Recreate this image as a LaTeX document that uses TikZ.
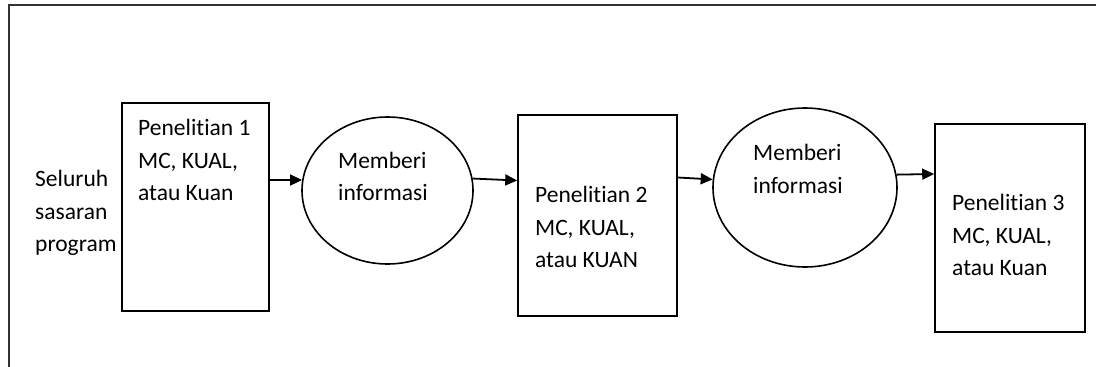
\documentclass[tikz,border=0pt]{standalone}
\usepackage{fontspec}
\setmainfont{Carlito}[Ligatures=NoCommon]
\usetikzlibrary{shapes.geometric,arrows.meta}

\begin{document}
\begin{tikzpicture}[x=1pt,y=-1pt,
	kotak/.style={draw,rectangle,line width=1.6pt,inner sep=0},
	elips/.style={draw,ellipse,line width=1.6pt,inner sep=0},
	teks/.style={align=left,anchor=west,inner sep=0,font=\fontsize{23.5}{32.5}\selectfont},
	panah/.style={-{Triangle[length=12pt,width=11pt]},line width=1.8pt}]
			\useasboundingbox (0,0) rectangle (1096,367);
			% Frame (top and left only)
			\draw[line width=2pt,black!80] (8.5,367) -- (8.5,4.5) -- (1096,4.5);

			% Boxes for each research
			\node[kotak,minimum width=147pt,minimum height=208pt] (p1) at (195.5,207) {};
			\node[kotak,minimum width=159pt,minimum height=201pt] (p2) at (597.5,215.5) {};
			\node[kotak,minimum width=150pt,minimum height=208pt] (p3) at (1010,228) {};

			% Ellipses in between
			\node[elips,minimum width=171pt,minimum height=147pt] (i1) at (387.5,190.5) {};
			\node[elips,minimum width=184pt,minimum height=159pt] (i2) at (805,187.5) {};

			% Texts
			\node[teks] (sasaran) at (35,213) {Seluruh\\sasaran\\program};
			\node[teks] (t1) at (138,160) {Penelitian 1\\MC, KUAL,\\atau Kuan};
			\node[teks] (m1) at (338,176.5) {Memberi\\informasi};
			\node[teks] (t2) at (535,227) {Penelitian 2\\MC, KUAL,\\atau KUAN};
			\node[teks] (m2) at (753,169) {Memberi\\informasi};
			\node[teks] (t3) at (952,235) {Penelitian 3\\MC, KUAL,\\atau Kuan};

			% Draw arrows
			\draw[panah] (p1.east |- i1.173) -- (i1.173);
			\draw[panah] (i1.8) -- ([yshift=35pt]p2.west);
			\draw[panah] ([yshift=38pt]p2.east) -- (i2.175);
			\draw[panah] (i2.8) -- ([yshift=54pt]p3.west);
		\end{tikzpicture}
\end{document}
